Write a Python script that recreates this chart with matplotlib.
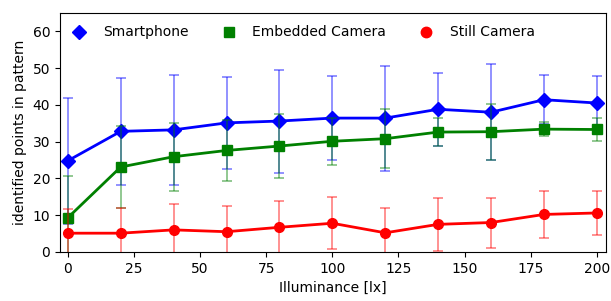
import matplotlib
matplotlib.use("Agg")
import matplotlib.pyplot as plt
from matplotlib.lines import Line2D

lux = [0, 20, 40, 60, 80, 100, 120, 140, 160, 180, 200]

smartphone = [24.8, 32.8, 33.2, 35.1, 35.6, 36.4, 36.4, 38.8, 38.0, 41.4, 40.5]
smartphone_err = [17.2, 14.6, 15.0, 12.6, 14.0, 11.5, 14.3, 9.9, 13.0, 6.7, 7.4]

embedded = [9.3, 23.1, 25.9, 27.6, 28.8, 30.1, 30.8, 32.6, 32.7, 33.4, 33.3]
embedded_err = [11.4, 11.1, 9.2, 8.2, 8.7, 6.4, 8.0, 3.7, 7.6, 2.0, 3.0]

still = [5.1, 5.1, 6.0, 5.5, 6.7, 7.8, 5.2, 7.5, 8.0, 10.2, 10.6]
still_err = [6.6, 6.8, 7.0, 7.0, 7.1, 7.1, 6.8, 7.3, 6.8, 6.4, 6.0]


def main():
    fig, ax = plt.subplots(figsize=(6.11, 3.01), dpi=100)

    series = [
        (smartphone, smartphone_err, "blue", "D", "Smartphone"),
        (embedded, embedded_err, "green", "s", "Embedded Camera"),
        (still, still_err, "red", "o", "Still Camera"),
    ]
    handles = []
    for values, err, color, marker, label in series:
        # barras de error semitransparentes debajo de la linea
        ax.errorbar(lux, values, yerr=err, fmt="none", ecolor=color,
                    alpha=0.5, capsize=3.5, elinewidth=1.2, capthick=1.2)
        ax.plot(lux, values, color=color, marker=marker, markersize=7,
                linewidth=2)
        handles.append(Line2D([], [], color=color, marker=marker,
                              linestyle="none", markersize=7.5, label=label))

    ax.set_xlim(-3, 203.5)
    ax.set_ylim(0, 65)
    ax.set_xticks(range(0, 201, 25))
    ax.set_yticks(range(0, 61, 10))
    ax.set_xlabel("Illuminance [lx]")
    ax.set_ylabel("identified points in pattern")
    ax.legend(handles=handles, loc="upper left", ncol=3, frameon=False,
              handlelength=1.0, handletextpad=1.2, columnspacing=2.4)

    fig.subplots_adjust(left=0.098, right=0.992, top=0.957, bottom=0.163)
    fig.savefig("out.png", dpi=100)


if __name__ == "__main__":
    main()
